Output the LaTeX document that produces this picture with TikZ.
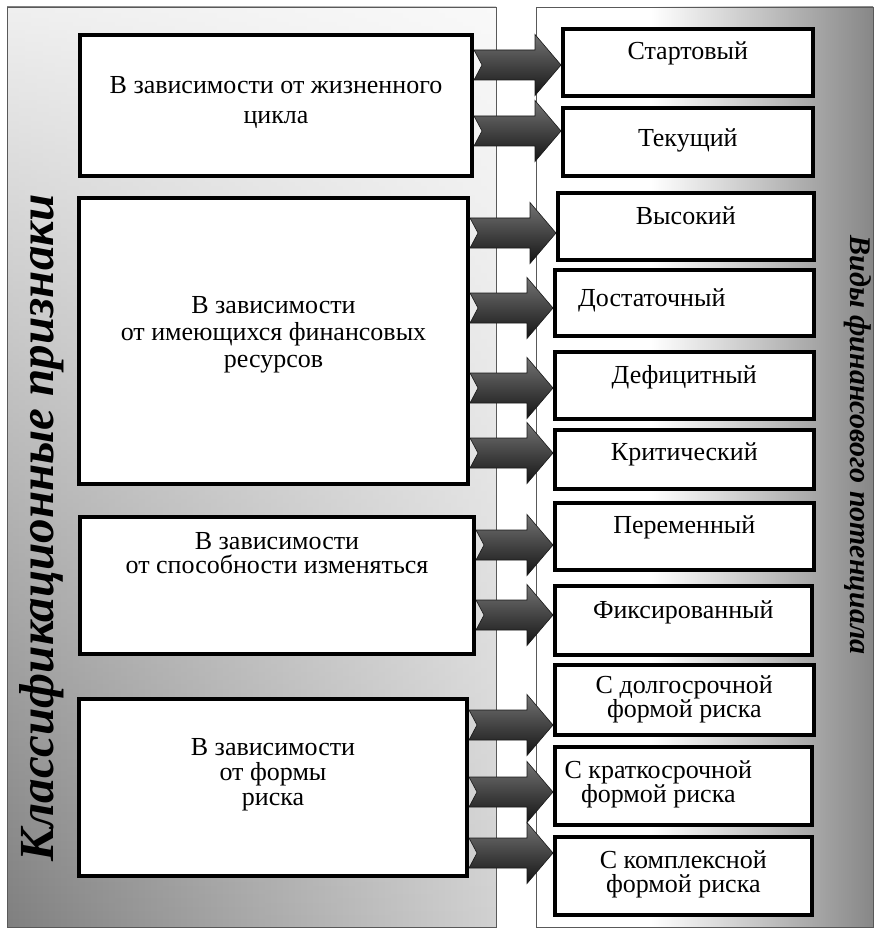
\documentclass[tikz,border=0pt]{standalone}
\usepackage{fontspec}
\setmainfont{Liberation Serif}
\usetikzlibrary{calc,positioning,shadows,fadings}

\pgfdeclarehorizontalshading{rpanelshade}{100bp}{color(0bp)=(white); color(42bp)=(white); color(75bp)=(black!47); color(100bp)=(black!47)}
\tikzfading[name=topfade, top color=transparent!12, bottom color=transparent!100]

\newcommand{\ml}[1]{\begin{tabular}[t]{@{}c@{}}#1\end{tabular}}

\tikzset{
  panel/.style={draw=black!65, line width=0.8pt},
  box/.style={draw, fill=white, anchor=north west, inner xsep=0pt, inner ysep=0pt,
    font=\fontsize{26}{30}\selectfont,
    drop shadow={shadow xshift=1.5pt, shadow yshift=-1.5pt, opacity=.3}},
  lbox/.style={box, line width=4pt},
  rbox/.style={box, line width=3.6pt},
  farrow/.style={draw=black!90, line width=0.6pt, top color=black!55, bottom color=black!92,
    to path={let \p1=(\tikztostart), \p2=(\tikztotarget) in
      (\x1,\y1+15pt) -- (\x2-26pt,\y1+15pt) -- (\x2-26pt,\y1+30.5pt) -- (\x2,\y1)
      -- (\x2-26pt,\y1-30.5pt) -- (\x2-26pt,\y1-15pt) -- (\x1,\y1-15pt) -- (\x1+8pt,\y1) -- cycle}},
  title/.style={font=\bfseries\itshape}
}

\begin{document}
\begin{tikzpicture}[x=1pt, y=-1pt]
  \useasboundingbox (0,0) rectangle (880,933);
  % panels
  \shade[left color=black!50, right color=black!18] (7,7) rectangle (496,927);
  \fill[white, path fading=topfade] (7,7) rectangle (496,927);
  \draw[panel] (7,7) rectangle (496,927);
  \shade[panel, shading=rpanelshade] (536,7) rectangle (873,927);
  \node[title, font=\fontsize{49}{54}\bfseries\itshape, rotate=90] (lt) at (42,528) {Классификационные признаки};
  \node[title, font=\fontsize{30}{34}\bfseries\itshape, rotate=-90] (rt) at (858,445) {Виды финансового потенциала};

  % classification boxes
  \node[lbox, minimum width=392pt, text height=59pt, text depth=82pt] (lb1) at (78,33)
    {\ml{В зависимости от жизненного\\цикла}};
  \node[lbox, minimum width=389pt, text height=115pt, text depth=171pt] (lb2) at (77,196)
    {\ml{В зависимости\\[-3pt]от имеющихся финансовых\\[-3pt]ресурсов}};
  \node[lbox, minimum width=394pt, text height=32pt, text depth=105pt] (lb3) at (78,515)
    {\ml{В зависимости\\[-6pt]от способности изменяться}};
  \node[lbox, minimum width=388pt, text height=56pt, text depth=121pt] (lb4) at (77,697)
    {\ml{В зависимости\\[-5pt]от формы\\[-5pt]риска}};

  % kinds
  \node[rbox, minimum width=250pt, text height=31pt, text depth=36pt] (rb1) at (561,27) {Стартовый};
  \node[rbox, minimum width=250pt, text height=39pt, text depth=29pt] (rb2) at (561,106) {Текущий};
  \node[rbox, minimum width=256pt, text height=32pt, text depth=35pt] (rb3) at (556,191) {Высокий};
  \node[rbox, minimum width=259pt, text height=37pt, text depth=29pt] (rb4) at (553,268) {Достаточный\hspace*{65pt}};
  \node[rbox, minimum width=259pt, text height=32pt, text depth=35pt] (rb5) at (553,350) {Дефицитный};
  \node[rbox, minimum width=259pt, text height=31pt, text depth=28pt] (rb6) at (553,428) {Критический};
  \node[rbox, minimum width=259pt, text height=31pt, text depth=36pt] (rb7) at (553,501) {Переменный};
  \node[rbox, minimum width=257pt, text height=33pt, text depth=36pt] (rb8) at (553,584) {Фиксированный};
  \node[rbox, minimum width=259pt, text height=29pt, text depth=41pt] (rb9) at (553,663)
    {\ml{С долгосрочной\\[-6pt]формой риска}};
  \node[rbox, minimum width=257pt, text height=32pt, text depth=46pt] (rb10) at (553,745)
    {\ml{С краткосрочной\\[-6pt]формой риска}\hspace*{50pt}};
  \node[rbox, minimum width=257pt, text height=32pt, text depth=46pt] (rb11) at (553,835)
    {\ml{С комплексной\\[-6pt]формой риска}};

  % arrows
  \path[farrow] (lb1.east |- 0,65) to (rb1.west |- 0,65);
  \path[farrow] (lb1.east |- 0,131) to (rb2.west |- 0,131);
  \path[farrow] (lb2.east |- 0,233) to (rb3.west |- 0,233);
  \path[farrow] (lb2.east |- 0,308) to (rb4.west |- 0,308);
  \path[farrow] (lb2.east |- 0,388) to (rb5.west |- 0,388);
  \path[farrow] (lb2.east |- 0,453) to (rb6.west |- 0,453);
  \path[farrow] (lb3.east |- 0,545) to (rb7.west |- 0,545);
  \path[farrow] (lb3.east |- 0,615) to (rb8.west |- 0,615);
  \path[farrow] (lb4.east |- 0,725) to (rb9.west |- 0,725);
  \path[farrow] (lb4.east |- 0,792) to (rb10.west |- 0,792);
  \path[farrow] (lb4.east |- 0,853) to (rb11.west |- 0,853);
\end{tikzpicture}
\end{document}
